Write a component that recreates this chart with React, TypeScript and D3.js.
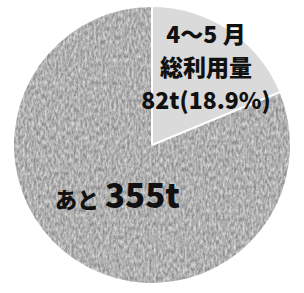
import * as d3 from "d3";

const sliceNames = ["used", "rest"];
const sliceValues = [82, 355]; // t
const usedLines = ["4〜5 月", "総利用量"];
const usedPercent = "18.9%";
const restPrefix = "あと";

const W = 304;
const H = 293;
const cx = 152;
const cy = 145;
const R = 138;

const App = () => {
  const pie = d3
    .pie<number>()
    .sort(null)
    .value((d) => d)
    .startAngle(0)
    .endAngle(2 * Math.PI);
  const arcs = pie(sliceValues);
  const arc = d3.arc<d3.PieArcDatum<number>>().innerRadius(0).outerRadius(R);

  const font = "'Noto Sans CJK JP', 'Noto Sans', sans-serif";

  return (
    <svg
      width={W}
      height={H}
      style={{ position: "absolute", left: 0, top: 0, background: "#fff" }}
    >
      <defs>
        <filter id="noise" x="0" y="0" width="1" height="1" colorInterpolationFilters="sRGB">
          <feTurbulence type="fractalNoise" baseFrequency="0.45 0.22" numOctaves={3} seed={4} result="t" />
          <feColorMatrix
            in="t"
            type="matrix"
            values="0.5 0 0 0 0.44  0.5 0 0 0 0.44  0.5 0 0 0 0.44  0 0 0 0 1"
            result="g"
          />
          <feComposite in="g" in2="SourceGraphic" operator="in" />
        </filter>
      </defs>
      <g transform={`translate(${cx},${cy})`}>
        {arcs.map((a, i) => (
          <path
            key={sliceNames[i]}
            d={arc(a) ?? ""}
            fill={i === 0 ? "#dadada" : "#aaaaaa"}
            filter={i === 1 ? "url(#noise)" : undefined}
          />
        ))}
        {arcs.map((a, i) => {
          const p = d3.pointRadial(a.startAngle, R + 2);
          return (
            <line key={"sep" + i} x1={0} y1={0} x2={p[0]} y2={p[1]} stroke="#fff" strokeWidth={2} />
          );
        })}
      </g>
      <g fontFamily={font} fontWeight={900} fill="#111" textAnchor="middle">
        <text x={206} y={43} fontSize={23}>{usedLines[0]}</text>
        <text x={206} y={76} fontSize={23}>{usedLines[1]}</text>
        <text x={206} y={109} fontSize={23}>{`${sliceValues[0]}t(${usedPercent})`}</text>
      </g>
      <text x={55} y={208} fontFamily={font} fontWeight={900} fill="#111">
        <tspan fontSize={22}>{restPrefix}</tspan>
        <tspan fontSize={33} dx={6}>{`${sliceValues[1]}t`}</tspan>
      </text>
    </svg>
  );
};

export default App;
